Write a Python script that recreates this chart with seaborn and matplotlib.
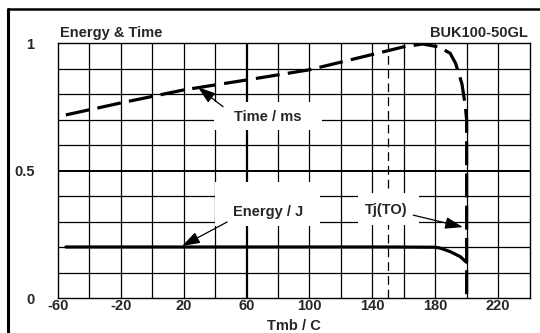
import matplotlib
matplotlib.use("Agg")
import matplotlib.pyplot as plt
from matplotlib.lines import Line2D
from matplotlib.patches import Rectangle
import seaborn as sns
import pandas as pd

# ---- data ----
time_x = [-55, -20, 20, 60, 100, 140, 160, 172, 182, 189.5, 193, 197, 199, 200, 200]
time_y = [0.718, 0.765, 0.816, 0.855, 0.895, 0.955, 0.985, 0.996, 0.985, 0.96, 0.92, 0.84, 0.76, 0.70, 0.0]

energy_x = [-55, 60, 150, 180, 183, 189.5, 196, 199, 200]
energy_y = [0.2, 0.2, 0.2, 0.199, 0.196, 0.182, 0.162, 0.145, 0.14]

xticks = [-60, -20, 20, 60, 100, 140, 180, 220]
yticks = [0, 0.5, 1]
ytick_labels = ["0", "0.5", "1"]

sns.set_theme(style="white")
plt.rcParams["font.family"] = ["Liberation Sans", "DejaVu Sans"]
plt.rcParams["axes.unicode_minus"] = False

FS = 10.5

fig = plt.figure(figsize=(5.4, 3.33), dpi=100)
ax = fig.add_axes([58/540, 1-298/333, (529.5-58)/540, (298-43)/333])

df_t = pd.DataFrame({"T": time_x, "v": time_y})
df_e = pd.DataFrame({"T": energy_x, "v": energy_y})

sns.lineplot(data=df_t, x="T", y="v", ax=ax, sort=False, estimator=None,
             color="black", lw=2.3, linestyle=(0, (7.5, 2.6)), zorder=5)
sns.lineplot(data=df_e, x="T", y="v", ax=ax, sort=False, estimator=None,
             color="black", lw=2.3, zorder=5)

ax.set_xlim(-60, 240)
ax.set_ylim(0, 1)

# grid
for gx in range(-40, 240, 20):
    ax.axvline(gx, color="black", lw=1.6 if gx == 60 else 0.9, zorder=1)
for gy in [0.1, 0.2, 0.3, 0.4, 0.5, 0.6, 0.7, 0.8, 0.9]:
    ax.axhline(gy, color="black", lw=1.4 if abs(gy-0.5) < 1e-9 else 0.9, zorder=1)
# Tj(TO) dashed marker at 150
ax.axvline(150, color="black", lw=0.9, linestyle=(0, (7, 4)), zorder=1.5)

# white label backgrounds
for (x0, y0, x1, y1) in [(39, 0.66, 108, 0.77), (40, 0.282, 107, 0.455), (131, 0.285, 170, 0.41)]:
    ax.add_patch(Rectangle((x0, y0), x1-x0, y1-y0, facecolor="white", edgecolor="none", zorder=2))

ax.set_xticks(xticks)
ax.set_xticks(list(range(-60, 241, 20)), minor=True)
ax.set_yticks(yticks)
ax.set_yticklabels(ytick_labels)
ax.tick_params(axis="both", which="both", direction="out", color="black",
               labelsize=FS, width=0.9)
ax.tick_params(axis="y", length=5, pad=12)
ax.tick_params(axis="x", which="both", length=3, pad=-2)
for lab in ax.get_xticklabels() + ax.get_yticklabels():
    lab.set_fontweight("bold")

for s in ax.spines.values():
    s.set_color("black")
    s.set_linewidth(1.0)

ax.set_xlabel("Tmb / C", fontsize=FS, fontweight="bold", labelpad=4)
ax.set_ylabel("")

arrow = dict(arrowstyle="-|>,head_length=0.9,head_width=0.3", color="black", lw=0.9,
             shrinkA=0, shrinkB=0)

ax.annotate("", xy=(29, 0.827), xytext=(45, 0.75), arrowprops=arrow, zorder=6)
ax.text(73.7, 0.71, "Time / ms", ha="center", va="center", fontsize=FS,
        fontweight="bold", zorder=4)

ax.annotate("", xy=(19, 0.204), xytext=(47.6, 0.298), arrowprops=arrow, zorder=6)
ax.text(73.7, 0.337, "Energy / J", ha="center", va="center", fontsize=FS,
        fontweight="bold", zorder=4)

ax.annotate("", xy=(197.6, 0.278), xytext=(166, 0.325), arrowprops=arrow, zorder=6)
ax.text(148.8, 0.345, "Tj(TO)", ha="center", va="center", fontsize=FS,
        fontweight="bold", zorder=4)

fig.text(60/540, 1-33/333, "Energy & Time", ha="left", va="center",
         fontsize=FS, fontweight="bold")
fig.text(528/540, 1-33/333, "BUK100-50GL", ha="right", va="center",
         fontsize=FS, fontweight="bold")

# outer frame (left and top edges visible)
fig.add_artist(Line2D([8/540, 8/540], [0, 1-9/333], color="black", lw=2.2,
                      transform=fig.transFigure))
fig.add_artist(Line2D([8/540, 1], [1-9/333, 1-9/333], color="black", lw=1.8,
                      transform=fig.transFigure))

fig.savefig("out.png", dpi=100)
